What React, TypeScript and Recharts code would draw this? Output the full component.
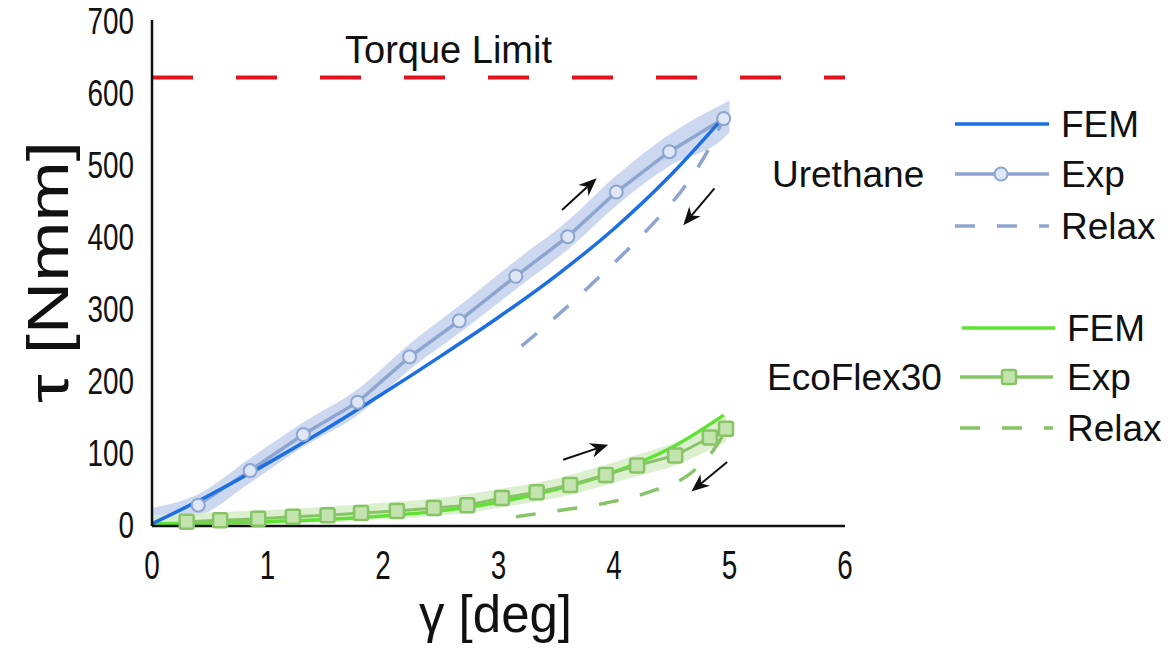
import React from "react"
import { ComposedChart, Line, Area, XAxis, YAxis, ReferenceLine } from "recharts"

const FONT = "'Liberation Sans', Arial, sans-serif"

const xTicks = [0, 1, 2, 3, 4, 5, 6]
const yTicks = [0, 100, 200, 300, 400, 500, 600, 700]
const torqueLimit = 620

// Urethane
const uFemX = [0, 0.5, 1, 1.5, 2, 2.5, 3, 3.5, 4, 4.5, 4.95]
const uFemY = [0, 40, 84, 131, 181, 233, 287, 345, 410, 486, 565]
const uExpX = [0.4, 0.85, 1.31, 1.78, 2.23, 2.66, 3.15, 3.6, 4.02, 4.48, 4.95]
const uExpY = [26, 74, 124, 169, 232, 282, 344, 399, 461, 517, 563]
const uBandX = [0, 0.4, 0.85, 1.31, 1.78, 2.23, 2.66, 3.15, 3.6, 4.02, 4.48, 4.95, 5.0]
const uBandMid = [12, 26, 74, 124, 169, 232, 284, 346, 401, 463, 519, 560, 566]
const uBandHalf = [10, 15, 17, 17, 18, 18, 19, 20, 20, 21, 22, 24, 22]
const uRelaxX = [3.2, 3.5, 3.8, 4.1, 4.4, 4.6, 4.8, 4.95]
const uRelaxY = [247, 288, 332, 378, 428, 466, 515, 563]

// EcoFlex30
const gFemX = [0, 0.5, 1, 1.5, 2, 2.5, 3, 3.5, 4, 4.5, 4.95]
const gFemY = [0, 1, 3, 6, 11, 18, 30, 48, 72, 106, 151]
const gExpX = [0.3, 0.59, 0.92, 1.22, 1.52, 1.81, 2.12, 2.44, 2.73, 3.03, 3.33, 3.62, 3.93, 4.2, 4.53, 4.83, 4.97]
const gExpY = [3, 5, 7, 10, 12, 15, 18, 22, 26, 36, 44, 54, 68, 81, 95, 120, 132]
const gBandX = [0, 0.3, 0.59, 0.92, 1.22, 1.52, 1.81, 2.12, 2.44, 2.73, 3.03, 3.33, 3.62, 3.93, 4.2, 4.53, 4.83, 4.97]
const gBandMid = [5, 6, 7, 9, 11, 13, 16, 19, 23, 28, 36, 44, 54, 68, 81, 97, 120, 133]
const gBandHalf = [7, 9, 9, 10, 10, 11, 11, 12, 12, 13, 13, 13, 14, 14, 15, 16, 17, 19]
const gRelaxX = [3.15, 3.5, 3.9, 4.3, 4.67, 4.85, 4.97]
const gRelaxY = [10, 18, 28, 44, 71, 100, 130]

// direction arrows [x1, y1, x2, y2] in data units
const arrows = [
  [3.55, 436, 3.85, 480],
  [4.87, 466, 4.6, 415],
  [3.56, 89, 3.95, 110],
  [4.98, 86, 4.67, 45],
]

const zip = (xs: number[], ys: number[]) => xs.map((x, i) => ({ x, y: ys[i] }))
const band = (xs: number[], mid: number[], half: number[]) =>
  xs.map((x, i) => ({ x, lo: mid[i] - half[i], hi: mid[i] + half[i] }))

const C = {
  uFem: "#1c6fe3",
  uExp: "#8da5cf",
  uDot: "#dde7f6",
  uBand: "#c3d0ed",
  gFem: "#5fe332",
  gExp: "#86c466",
  gDot: "#c3e4ae",
  gBand: "#d6edc8",
  red: "#e3121f",
}

// tick labels in the figure are tall and condensed
const NarrowTick = (props: any) => {
  const { x, y, payload, textAnchor, vertical } = props
  const s = String(payload.value)
  return (
    <text x={x} y={y} dy={vertical ? "0.4em" : "0.71em"} textAnchor={textAnchor}
      textLength={s.length * 15.5} lengthAdjust="spacingAndGlyphs"
      style={{ fontFamily: FONT, fontSize: vertical ? 36 : 40, fill: "#111" }}>{s}</text>
  )
}

const CircleDot = (props: any) => {
  const { cx, cy, index } = props
  return <circle key={index} cx={cx} cy={cy} r={6.5} fill={C.uDot} stroke={C.uExp} strokeWidth={2} />
}

const SquareDot = (props: any) => {
  const { cx, cy, index } = props
  return (
    <rect key={index} x={cx - 7} y={cy - 7} width={14} height={14} rx={2}
      fill={C.gDot} stroke={C.gExp} strokeWidth={2.5} />
  )
}

const ArrowShape = (props: any) => {
  const { x1, y1, x2, y2 } = props
  const a = Math.atan2(y2 - y1, x2 - x1)
  const L = 18
  const W = 7.5
  const bx = x2 - L * Math.cos(a)
  const by = y2 - L * Math.sin(a)
  const px = -Math.sin(a) * W
  const py = Math.cos(a) * W
  const nx = bx + L * 0.3 * Math.cos(a)
  const ny = by + L * 0.3 * Math.sin(a)
  return (
    <g>
      <line x1={x1} y1={y1} x2={nx} y2={ny} stroke="#111" strokeWidth={2} />
      <polygon points={`${x2},${y2} ${bx + px},${by + py} ${nx},${ny} ${bx - px},${by - py}`} fill="#111" />
    </g>
  )
}

function Legend() {
  const textStyle = { fontFamily: FONT, fontSize: 37, fill: "#111" }
  return (
    <svg width={1176} height={652} style={{ position: "absolute", left: 0, top: 0, pointerEvents: "none" }}>
      {/* Urethane */}
      <text x={772} y={174} dominantBaseline="central" style={textStyle}>Urethane</text>
      <line x1={955} y1={124} x2={1049} y2={124} stroke={C.uFem} strokeWidth={3.5} />
      <text x={1061} y={124} dominantBaseline="central" style={textStyle}>FEM</text>
      <line x1={955} y1={174} x2={1049} y2={174} stroke={C.uExp} strokeWidth={3.5} />
      <circle cx={1001} cy={174} r={6.5} fill={C.uDot} stroke={C.uExp} strokeWidth={2} />
      <text x={1061} y={174} dominantBaseline="central" style={textStyle}>Exp</text>
      <line x1={955} y1={226} x2={1049} y2={226} stroke={C.uExp} strokeWidth={3.5} strokeDasharray="20 22" />
      <text x={1061} y={226} dominantBaseline="central" style={textStyle}>Relax</text>
      {/* EcoFlex30 */}
      <text x={767} y={377} dominantBaseline="central" style={textStyle}>EcoFlex30</text>
      <line x1={962} y1={328} x2={1055} y2={328} stroke={C.gFem} strokeWidth={3.5} />
      <text x={1067} y={328} dominantBaseline="central" style={textStyle}>FEM</text>
      <line x1={960} y1={377} x2={1053} y2={377} stroke={C.gExp} strokeWidth={3.5} />
      <rect x={1002} y={370} width={14} height={14} rx={2} fill={C.gDot} stroke={C.gExp} strokeWidth={2.5} />
      <text x={1067} y={377} dominantBaseline="central" style={textStyle}>Exp</text>
      <line x1={960} y1={428} x2={1053} y2={428} stroke={C.gExp} strokeWidth={3.5} strokeDasharray="20 22" />
      <text x={1067} y={428} dominantBaseline="central" style={textStyle}>Relax</text>
    </svg>
  )
}

export default function App() {
  return (
    <div style={{ position: "absolute", left: 0, top: 0, width: 1176, height: 652, background: "#fff" }}>
      <ComposedChart width={1176} height={652} margin={{ top: 20, right: 331, bottom: 66, left: 60 }}>
        <XAxis
          type="number"
          dataKey="x"
          domain={[0, 6]}
          ticks={xTicks}
          tickLine={false}
          axisLine={{ stroke: "#111", strokeWidth: 2.5 }}
          tick={(p: any) => <NarrowTick {...p} />}
          tickMargin={19}
          height={60}
          label={{
            content: (p: any) => (
              <text x={p.viewBox.x + p.viewBox.width / 2 - 3} y={632} textAnchor="middle"
                style={{ fontFamily: FONT, fontSize: 51, fill: "#111" }}>γ [deg]</text>
            ),
          }}
        />
        <YAxis
          type="number"
          domain={[0, 700]}
          ticks={yTicks}
          tickLine={false}
          axisLine={{ stroke: "#111", strokeWidth: 2.5 }}
          tick={(p: any) => <NarrowTick {...p} vertical />}
          tickMargin={12}
          width={92}
          label={{
            content: () => (
              <text x={68} y={272} textAnchor="middle" transform="rotate(-90 68 272)"
                textLength={262} lengthAdjust="spacingAndGlyphs"
                style={{ fontFamily: FONT, fontSize: 58, fill: "#111" }}>τ [Nmm]</text>
            ),
          }}
        />
        <Area data={band(uBandX, uBandMid, uBandHalf)} dataKey={(d: any) => [d.lo, d.hi]} type="monotone"
          stroke="none" fill={C.uBand} fillOpacity={0.85} isAnimationActive={false} />
        <Area data={band(gBandX, gBandMid, gBandHalf)} dataKey={(d: any) => [d.lo, d.hi]} type="monotone"
          stroke="none" fill={C.gBand} fillOpacity={0.85} isAnimationActive={false} />
        <ReferenceLine
          y={torqueLimit}
          stroke={C.red}
          strokeWidth={4}
          strokeDasharray="41 43"
          label={{
            content: (p: any) => (
              <text x={p.viewBox.x + 193} y={p.viewBox.y - 15}
                style={{ fontFamily: FONT, fontSize: 38, fill: "#111" }}>Torque Limit</text>
            ),
          }}
        />
        <Line data={zip(uRelaxX, uRelaxY)} dataKey="y" type="monotone" stroke={C.uExp} strokeWidth={3.5}
          strokeDasharray="20 22" dot={false} isAnimationActive={false} />
        <Line data={zip(gRelaxX, gRelaxY)} dataKey="y" type="monotone" stroke={C.gExp} strokeWidth={3.5}
          strokeDasharray="20 22" dot={false} isAnimationActive={false} />
        <Line data={zip(gFemX, gFemY)} dataKey="y" type="monotone" stroke={C.gFem} strokeWidth={3.5}
          dot={false} isAnimationActive={false} />
        <Line data={zip(gExpX, gExpY)} dataKey="y" type="linear" stroke={C.gExp} strokeWidth={3}
          dot={SquareDot} isAnimationActive={false} />
        <Line data={zip(uExpX, uExpY)} dataKey="y" type="linear" stroke={C.uExp} strokeWidth={3.5}
          dot={CircleDot} isAnimationActive={false} />
        <Line data={zip(uFemX, uFemY)} dataKey="y" type="monotone" stroke={C.uFem} strokeWidth={3.5}
          dot={false} isAnimationActive={false} />
        {arrows.map((a, i) => (
          <ReferenceLine key={i} segment={[{ x: a[0], y: a[1] }, { x: a[2], y: a[3] }]} shape={ArrowShape} />
        ))}
      </ComposedChart>
      <Legend />
    </div>
  )
}
